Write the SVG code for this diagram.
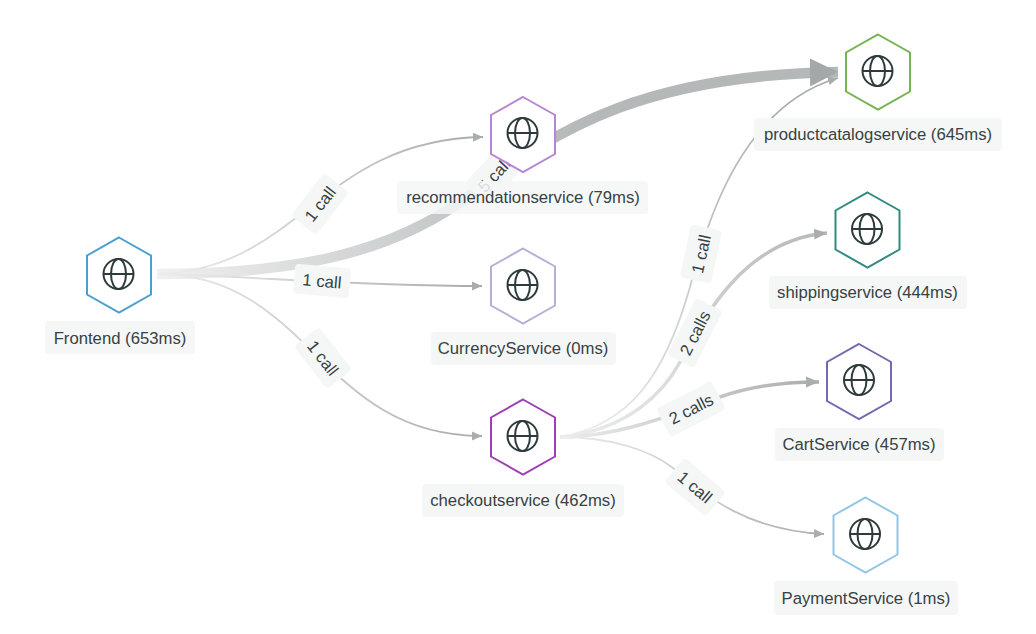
<svg xmlns="http://www.w3.org/2000/svg" width="1036" height="634" viewBox="0 0 1036 634">
<style>
text{font-family:"Liberation Sans",Arial,sans-serif;font-size:16.7px;fill:#374143;text-anchor:middle}
.hex{fill:#fff;stroke-width:2}
.globe{fill:none;stroke:#2f3a3c;stroke-width:2}
.lb{fill:#f5f7f7}
.e{fill:none}
</style>
<defs>
<marker id="a1" markerUnits="userSpaceOnUse" markerWidth="12" markerHeight="12" refX="10" refY="6" orient="auto"><path d="M0,1.500L10,6L0,10.500Z" fill="#a9adad"/></marker>
<marker id="a2" markerUnits="userSpaceOnUse" markerWidth="14" markerHeight="16" refX="13" refY="8" orient="auto"><path d="M0,2.500L13,8L0,13.500Z" fill="#a9adad"/></marker>
<marker id="a3" markerUnits="userSpaceOnUse" markerWidth="30" markerHeight="30" refX="28" refY="15" orient="auto"><path d="M0,1L28,15L0,29Z" fill="#a4a8a8"/></marker>
<linearGradient id="g0" gradientUnits="userSpaceOnUse" x1="157" y1="274" x2="600" y2="110"><stop offset="0" stop-color="#eff0f0"/><stop offset="0.75" stop-color="#bcc0c0"/><stop offset="1" stop-color="#b4b8b8"/></linearGradient>
<linearGradient id="g1" gradientUnits="userSpaceOnUse" x1="157" y1="274" x2="482" y2="274"><stop offset="0" stop-color="#eceded"/><stop offset="1" stop-color="#a8acac"/></linearGradient>
<linearGradient id="g2" gradientUnits="userSpaceOnUse" x1="560" y1="437" x2="825" y2="437"><stop offset="0" stop-color="#eceded"/><stop offset="1" stop-color="#a8acac"/></linearGradient>
<linearGradient id="g3" gradientUnits="userSpaceOnUse" x1="560" y1="437" x2="800" y2="100"><stop offset="0" stop-color="#eceded"/><stop offset="1" stop-color="#a8acac"/></linearGradient>
<g id="hexagon"><polygon points="0,-37.500 32,-19.500 32,19.500 0,37.500 -32,19.500 -32,-19.500"/></g>
<g id="globe" class="globe"><circle r="15"/><ellipse rx="7.500" ry="15"/><path d="M-15,0H15"/></g>
</defs>
<rect width="1036" height="634" fill="#fff"/>

<g id="connectors">
<path class="e" d="M157,274C290,274 390,255 470,195C560,125 650,75 838,72" stroke="url(#g0)" stroke-width="10.500" marker-end="url(#a3)"/>
<path class="e" d="M157,274C300,270 320,140 483,137" stroke="url(#g1)" stroke-width="1.800" marker-end="url(#a1)"/>
<path class="e" d="M157,274C250,276 350,286 482,286" stroke="url(#g1)" stroke-width="1.800" marker-end="url(#a1)"/>
<path class="e" d="M157,274C310,274 320,436 482,436" stroke="url(#g1)" stroke-width="1.800" marker-end="url(#a1)"/>
<path class="e" d="M560,437C630,425 665,375 690,287C708,215 745,105 838,78" stroke="url(#g3)" stroke-width="1.800" marker-end="url(#a1)"/>
<path class="e" d="M560,437C630,430 665,390 680,362C705,315 745,240 827,233" stroke="url(#g3)" stroke-width="3.500" marker-end="url(#a2)"/>
<path class="e" d="M560,437C620,437 680,412 720,397C750,386 785,382 819,382" stroke="url(#g2)" stroke-width="3.500" marker-end="url(#a2)"/>
<path class="e" d="M560,437C610,437 650,450 673,468C705,495 745,530 824,534" stroke="url(#g2)" stroke-width="1.800" marker-end="url(#a1)"/>
<g id="edge-labels">
<g transform="translate(320,204) rotate(-52)"><rect class="lb" x="-27" y="-16" width="54" height="32" rx="4"/><text y="6">1 call</text></g>
<g transform="translate(322,281) rotate(5)"><rect class="lb" x="-28" y="-15" width="56" height="30" rx="4"/><text y="6">1 call</text></g>
<g transform="translate(323,358) rotate(52)"><rect class="lb" x="-27" y="-16" width="54" height="32" rx="4"/><text y="6">1 call</text></g>
<g transform="translate(497,172) rotate(-47)"><rect class="lb" x="-31" y="-16" width="62" height="32" rx="4"/><text y="6">5 calls</text></g>
<g transform="translate(701,254) rotate(-78)"><rect class="lb" x="-27" y="-16" width="54" height="32" rx="4"/><text y="6">1 call</text></g>
<g transform="translate(695,333) rotate(-63)"><rect class="lb" x="-32" y="-15" width="64" height="30" rx="4"/><text y="6">2 calls</text></g>
<g transform="translate(691,409) rotate(-27)"><rect class="lb" x="-31" y="-16" width="62" height="32" rx="4"/><text y="6">2 calls</text></g>
<g transform="translate(695,487) rotate(40)"><rect class="lb" x="-27" y="-16" width="54" height="32" rx="4"/><text y="6">1 call</text></g>
</g>
</g>

<g id="frontend"><use href="#hexagon" class="hex" stroke="#4a9fd0" x="119" y="275"/><use href="#globe" x="118.500" y="274"/><rect class="lb" x="45" y="321" width="150" height="33" rx="4"/><text x="120" y="343.500">Frontend (653ms)</text></g>
<g id="recommendationservice"><use href="#hexagon" class="hex" stroke="#b685d6" x="523" y="134.500"/><use href="#globe" x="522.500" y="133"/><rect class="lb" fill-opacity="0.850" x="397" y="181" width="251" height="33" rx="4"/><text x="523" y="203">recommendationservice (79ms)</text></g>
<g id="currencyservice"><use href="#hexagon" class="hex" stroke="#b9aed8" x="523" y="286"/><use href="#globe" x="522.500" y="285"/><rect class="lb" x="431" y="332" width="185" height="33" rx="4"/><text x="523" y="354">CurrencyService (0ms)</text></g>
<g id="checkoutservice"><use href="#hexagon" class="hex" stroke="#9c3fb5" x="523" y="437"/><use href="#globe" x="522.500" y="436"/><rect class="lb" x="422" y="484" width="202" height="33" rx="4"/><text x="523" y="506">checkoutservice (462ms)</text></g>
<g id="productcatalogservice"><use href="#hexagon" class="hex" stroke="#74b350" x="878" y="72"/><use href="#globe" x="877.500" y="71"/><rect class="lb" x="754" y="118" width="248" height="33" rx="4"/><text x="878" y="140">productcatalogservice (645ms)</text></g>
<g id="shippingservice"><use href="#hexagon" class="hex" stroke="#2e8b80" x="867.500" y="230"/><use href="#globe" x="867" y="229"/><rect class="lb" x="769" y="276" width="198" height="33" rx="4"/><text x="867.500" y="298">shippingservice (444ms)</text></g>
<g id="cartservice"><use href="#hexagon" class="hex" stroke="#7468b0" x="859" y="381.500"/><use href="#globe" x="859" y="380"/><rect class="lb" x="775" y="428" width="169" height="33" rx="4"/><text x="859" y="450">CartService (457ms)</text></g>
<g id="paymentservice"><use href="#hexagon" class="hex" stroke="#92c5e8" x="865.500" y="535"/><use href="#globe" x="865" y="534"/><rect class="lb" x="774" y="581" width="184" height="34" rx="4"/><text x="866" y="603.500">PaymentService (1ms)</text></g>
</svg>
